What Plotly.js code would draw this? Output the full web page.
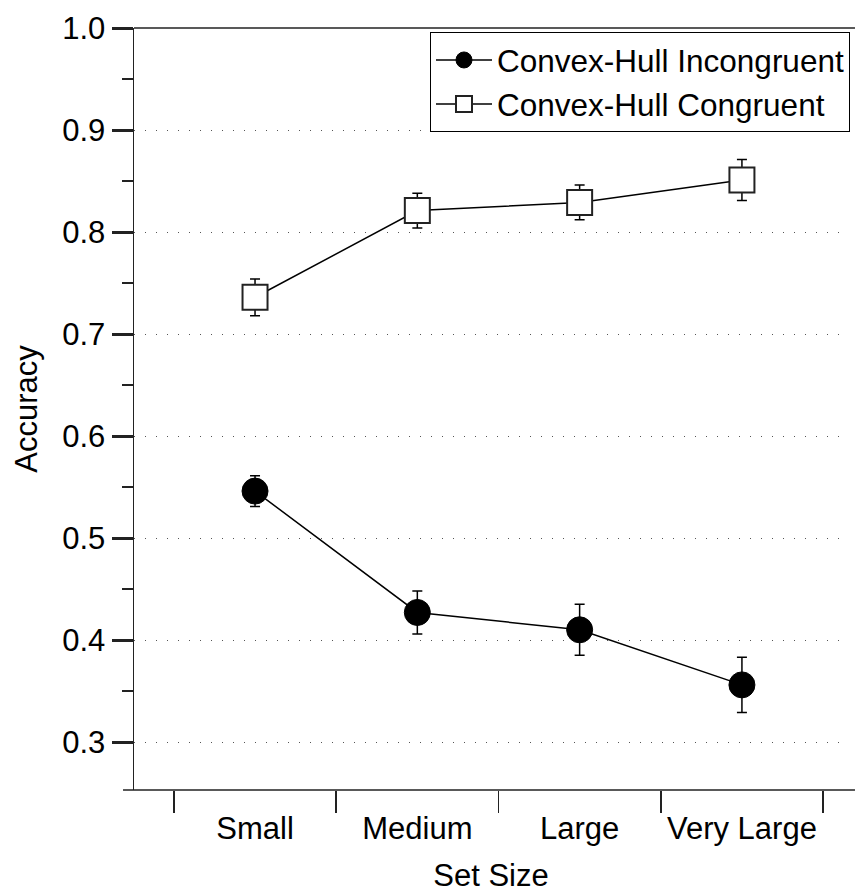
<!DOCTYPE html>
<html>
<head>
<meta charset="utf-8">
<script src="https://cdn.plot.ly/plotly-3.0.1.min.js"></script>
<style>html,body{margin:0;padding:0;background:#fff;}#chart{width:857px;height:893px;}</style>
</head>
<body>
<div id="chart"></div>
<script>
const categories = ["Small", "Medium", "Large", "Very Large"];
const incongruentAcc = [0.546, 0.427, 0.410, 0.356];
const incongruentErr = [0.015, 0.021, 0.025, 0.027];
const congruentAcc = [0.736, 0.821, 0.829, 0.851];
const congruentErr = [0.018, 0.017, 0.017, 0.020];
const seriesNames = ["Convex-Hull Incongruent", "Convex-Hull Congruent"];

const FONT = "Liberation Sans, Arial, Helvetica, sans-serif";
const AX = "#222";
const W = 857, H = 893;
const L = 134, R = 850, T = 28, B = 790;
const pw = R - L, ph = B - T;
const yRange = [0.3 - 48 / 1020, 1.0];

const traces = [
  {type: "scatter", mode: "lines+markers", name: seriesNames[0], x: categories, y: incongruentAcc,
    error_y: {type: "data", array: incongruentErr, visible: true, color: "#000", thickness: 1.5, width: 5},
    line: {color: "#000", width: 1.5}, marker: {symbol: "circle", size: 26, color: "#000", line: {color: "#000", width: 1}}},
  {type: "scatter", mode: "lines+markers", name: seriesNames[1], x: categories, y: congruentAcc,
    error_y: {type: "data", array: congruentErr, visible: true, color: "#000", thickness: 1.5, width: 5},
    line: {color: "#000", width: 1.5}, marker: {symbol: "square", size: 25, color: "#fff", line: {color: "#222", width: 2}}}
];

const layout = {
  width: W, height: H, margin: {l: L, r: W - R, t: T, b: H - B, pad: 0},
  paper_bgcolor: "#fff", plot_bgcolor: "#fff",
  font: {family: FONT, size: 31, color: "#000"}, showlegend: true,
  legend: {x: (852 - L) / pw, xanchor: "right", y: (B - 32) / ph, yanchor: "top",
    bgcolor: "#fff", bordercolor: "#000", borderwidth: 1, font: {family: FONT, size: 31.5, color: "#000"},
    tracegroupgap: 0, itemwidth: 56},
  xaxis: {type: "category", categoryorder: "array", categoryarray: categories,
    range: [-0.5 - 40 / 162.8, 3.5 + 25 / 162.8], showline: false, showgrid: false, zeroline: false,
    ticks: "outside", tickson: "boundaries", ticklen: 22, tickwidth: 1.5, tickcolor: AX, ticklabelstandoff: 17,
    tickfont: {family: FONT, size: 31, color: "#000"},
    title: {text: "Set Size", font: {family: FONT, size: 31, color: "#000"}, standoff: 26}, automargin: false, fixedrange: true},
  yaxis: {range: yRange, tick0: 0.3, dtick: 0.1, tickformat: ".1f",
    showline: true, linecolor: AX, linewidth: 1.5,
    ticks: "outside", ticklen: 21, tickwidth: 3, tickcolor: AX,
    minor: {tick0: 0.25, dtick: 0.05, ticks: "outside", ticklen: 11, tickwidth: 2, tickcolor: AX, showgrid: false},
    showgrid: true, gridcolor: "#555", gridwidth: 1, griddash: "1px,10px", zeroline: false,
    tickfont: {family: FONT, size: 31, color: "#000"},
    title: {text: "Accuracy", font: {family: FONT, size: 31, color: "#000"}, standoff: 15}, automargin: false, fixedrange: true},
  shapes: [
    {type: "line", xref: "paper", yref: "paper", x0: (123 - L) / pw, x1: (W - L) / pw, y0: 0, y1: 0, line: {color: AX, width: 1.5}},
    {type: "line", xref: "paper", yref: "paper", x0: 0, x1: (W - L) / pw, y0: 1, y1: 1, line: {color: AX, width: 1.5}}
  ]
};

Plotly.newPlot("chart", traces, layout, {displayModeBar: false, staticPlot: true});
</script>
</body>
</html>
